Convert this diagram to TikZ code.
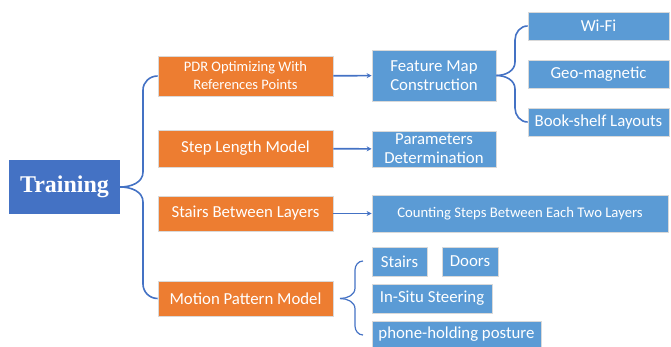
\documentclass[tikz,border=0pt]{standalone}
\usepackage{fontspec}
\setmainfont{Carlito}
\newfontfamily\trainfont{Liberation Serif}
\usetikzlibrary{arrows.meta}
\definecolor{trainblue}{HTML}{4472C4}
\definecolor{boxorange}{HTML}{ED7D31}
\definecolor{boxblue}{HTML}{5B9BD5}
\definecolor{rimgray}{HTML}{D9D9D9}

\begin{document}
\begin{tikzpicture}[
    x=1pt, y=-1pt,
    every node/.style={anchor=center, inner sep=0pt, text=white, align=center},
    train/.style={fill=trainblue, minimum width=111pt, minimum height=54pt, font=\trainfont\bfseries\fontsize{24}{26}\selectfont},
    method/.style={fill=boxorange, draw=rimgray, line width=0.8pt, minimum width=175pt, font=\fontsize{16.8}{18}\selectfont},
    item/.style={fill=boxblue, draw=rimgray, line width=0.8pt, font=\fontsize{16.8}{19}\selectfont},
    link/.style={draw=trainblue, line width=1.6pt},
    arrow/.style={link, -{Stealth[length=5pt,width=5pt]}}
    ]
\useasboundingbox (0,0) rectangle (671,347);

% Root
\node[train] (Training) at (64.5,187) {Training};

% Second column
\node[method, minimum height=40pt, font=\fontsize{14.5}{18}\selectfont] (pdr) at (245.5,76) {PDR Optimizing With\\References Points};
\node[method, minimum height=37pt] (steplen) at (245.5,148.5) {Step Length Model};
\node[method, minimum height=35pt] (layers) at (245.5,213.5) {Stairs Between Layers};
\node[method, minimum height=35pt] (motion) at (245.5,298.5) {Motion Pattern Model};

% Third column
\node[item, minimum width=124pt, minimum height=51pt] (feature) at (434,75.5) {Feature Map\\Construction};
\node[item, minimum width=124pt, minimum height=36pt] (param) at (434,149) {Parameters\\Determination};
\node[item, minimum width=296pt, minimum height=37pt, font=\fontsize{14.7}{16}\selectfont] (counting) at (520,213.5) {Counting Steps Between Each Two Layers};
\node[item, minimum width=55pt, minimum height=29pt] (stairs) at (399.5,261.5) {Stairs};
\node[item, minimum width=56pt, minimum height=29pt] (doors) at (470,261.5) {Doors};
\node[item, minimum width=120pt, minimum height=29pt] (insitu) at (432,298.5) {In-Situ Steering};
\node[item, minimum width=169pt, minimum height=26pt] (posture) at (456.5,334) {phone-holding posture};

% Fourth column
\node[item, minimum width=141pt, minimum height=28pt] (wifi) at (598.5,26) {Wi-Fi};
\node[item, minimum width=141pt, minimum height=28pt] (geo) at (598.5,74) {Geo-magnetic};
\node[item, minimum width=141pt, minimum height=28pt] (shelf) at (598.5,122) {Book-shelf Layouts};

% Braces
\draw[link] (Training.east) to[out=0, in=-90] (143,172) -- (143,90) to[out=90, in=180] (pdr.west);
\draw[link] (Training.east) to[out=0, in=90] (143,202) -- (143,284) to[out=-90, in=180] (motion.west);
\draw[link] (feature.east) to[out=0, in=-90] (515,62) -- (515,40) to[out=90, in=180] (wifi.west);
\draw[link] (feature.east) to[out=0, in=90] (515,89) -- (515,108) to[out=-90, in=180] (shelf.west);

\coordinate (mtip) at (340,298.5);
\coordinate (mtop) at (363,261);
\coordinate (mbot) at (363,335);
\draw[link, line width=1.2pt] (mtip) to[out=0, in=-90] (355,288) -- (355,270) to[out=90, in=180] (mtop);
\draw[link, line width=1.2pt] (mtip) to[out=0, in=90] (355,309) -- (355,326) to[out=-90, in=180] (mbot);

% Arrows
\draw[arrow] (pdr) -- (feature);
\draw[arrow] (steplen) -- (param);
\draw[arrow] (layers) -- (counting);

\end{tikzpicture}
\end{document}
